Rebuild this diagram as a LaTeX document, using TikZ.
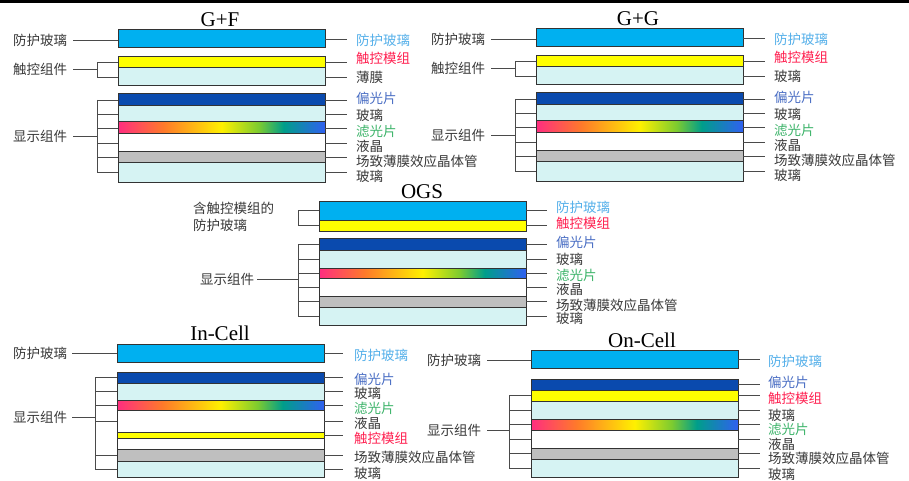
\documentclass[tikz,border=0pt]{standalone}
\usepackage{fontspec}
\setmainfont{Liberation Serif}
\newfontfamily\cjk{Noto Sans CJK SC}
\usetikzlibrary{calc}
\definecolor{pglass}{HTML}{00B0F0}
\definecolor{tyellow}{HTML}{FFFF00}
\definecolor{lglass}{HTML}{D6F3F3}
\definecolor{dblue}{HTML}{0A4AAE}
\definecolor{lgray}{HTML}{BFBFBF}
\definecolor{edge}{HTML}{333333}
\definecolor{conncol}{HTML}{4A4A4A}
\definecolor{txtgray}{HTML}{3A3A3A}
\definecolor{tblue}{HTML}{55B0EA}
\definecolor{tred}{HTML}{FF2050}
\definecolor{tpol}{HTML}{4A6EC4}
\definecolor{tgreen}{HTML}{3DB46A}
\definecolor{spA}{HTML}{FF2D80}
\definecolor{spB}{HTML}{FF7A2A}
\definecolor{spC}{HTML}{FFF000}
\definecolor{spD}{HTML}{7CCB30}
\definecolor{spE}{HTML}{009E8A}
\definecolor{spF}{HTML}{3060F0}
\pgfdeclarehorizontalshading{spectrum}{100bp}{color(0bp)=(spA); color(25bp)=(spA); color(36bp)=(spB); color(50bp)=(spC); color(59bp)=(spD); color(65bp)=(spE); color(75bp)=(spF); color(100bp)=(spF)}
\def\rgap{9pt}
\newcommand\mklay[5]{\node[layer,#5,minimum height=#4pt] (#1) at (#2,#3) {};}
\newcommand\mkrl[6]{\node[rlab,text=#5] (#1) at (#3,#4) {#6};\draw[conn,shorten >=\rgap] (#2.east) -- (#2.east -| #1.west);}
\newcommand\mktick[2]{\draw[conn] (#1.west) -- (#1.west -| #2);}
\newcommand\mkgpanel[3]{%
 \node[ttl] (#1T) at (220,20) {#2};
 \mklay{#1A}{118}{30}{18}{pg}
 \mklay{#1B}{118}{57}{11}{ty}
 \mklay{#1C}{118}{68}{18}{lg}
 \mklay{#1D}{118}{94}{12}{db}
 \mklay{#1E}{118}{106}{16}{lg}
 \mklay{#1F}{118}{122}{12}{sp}
 \mklay{#1G}{118}{134}{18}{wh}
 \mklay{#1H}{118}{152}{11}{gr}
 \mklay{#1I}{118}{163}{19}{lg}
 \coordinate (#1br) at (97,0);
 \node[llab] (#1La) at (13,40) {防护玻璃};
 \draw[conn,shorten <=6pt] (#1La.east) -- (#1La.east -| #1A.west);
 \node[llab] (#1Lb) at (13,69) {触控组件};
 \draw[conn,shorten <=6pt] (#1Lb.east) -- (#1Lb.east -| #1br);
 \draw[conn] (#1B.west -| #1br) -- (#1C.west -| #1br);
 \mktick{#1B}{#1br}\mktick{#1C}{#1br}
 \node[llab] (#1Lc) at (13,136) {显示组件};
 \draw[conn,shorten <=6pt] (#1Lc.east) -- (#1Lc.east -| #1br);
 \draw[conn] (#1D.west -| #1br) -- (#1I.west -| #1br);
 \mktick{#1D}{#1br}\mktick{#1E}{#1br}\mktick{#1F}{#1br}\mktick{#1G}{#1br}\mktick{#1H}{#1br}\mktick{#1I}{#1br}
 \mkrl{#1Ra}{#1A}{356}{40}{tblue}{防护玻璃}
 \mkrl{#1Rb}{#1B}{356}{58}{tred}{触控模组}
 \mkrl{#1Rc}{#1C}{356}{77}{txtgray}{#3}
 \mkrl{#1Rd}{#1D}{356}{98}{tpol}{偏光片}
 \mkrl{#1Re}{#1E}{356}{115}{txtgray}{玻璃}
 \mkrl{#1Rf}{#1F}{356}{131}{tgreen}{滤光片}
 \mkrl{#1Rg}{#1G}{356}{146}{txtgray}{液晶}
 \mkrl{#1Rh}{#1H}{356}{161}{txtgray}{场致薄膜效应晶体管}
 \mkrl{#1Ri}{#1I}{356}{176}{txtgray}{玻璃}
}
\begin{document}
\begin{tikzpicture}[x=1pt,y=-1pt,
 layer/.style={draw=edge,line width=1pt,minimum width=207pt,inner sep=0pt,outer sep=0pt,anchor=north west},
 conn/.style={draw=conncol,line width=0.9pt},
 llab/.style={font=\cjk\fontsize{13.5}{16}\selectfont,text=txtgray,inner sep=0pt,anchor=west},
 rlab/.style={font=\cjk\fontsize{13.5}{16}\selectfont,inner sep=0pt,anchor=west},
 ttl/.style={font=\fontsize{21}{24}\selectfont,inner sep=0pt},
 pg/.style={fill=pglass}, ty/.style={fill=tyellow}, lg/.style={fill=lglass},
 db/.style={fill=dblue}, sp/.style={shade,shading=spectrum}, wh/.style={fill=white},
 gr/.style={fill=lgray}]
\useasboundingbox (0,0) rectangle (909,481);
\fill[white] (0,0) rectangle (909,481);
\fill[black] (0,0) rectangle (909,3);
% G+F
\mkgpanel{gf}{G+F}{薄膜}
% G+G
\begin{scope}[shift={(418,-1)}]
\mkgpanel{gg}{G+G}{玻璃}
\end{scope}
% OGS
\node[ttl] (oT) at (422,192) {OGS};
\mklay{oA}{319}{201}{19}{pg}
\mklay{oB}{319}{220}{11}{ty}
\mklay{oD}{319}{238}{12}{db}
\mklay{oE}{319}{250}{18}{lg}
\mklay{oF}{319}{268}{10}{sp}
\mklay{oG}{319}{278}{18}{wh}
\mklay{oH}{319}{296}{11}{gr}
\mklay{oI}{319}{307}{18}{lg}
\coordinate (obr) at (298,0);
\node[llab] (oLa) at (193,208) {含触控模组的};
\node[llab] (oLa2) at (193,225) {防护玻璃};
\draw[conn] ($(oLa.east)+(0,5)$) -- ($(oLa.east)+(0,5)$ -| obr);
\draw[conn] (oA.west -| obr) -- (oB.west -| obr);
\mktick{oA}{obr}\mktick{oB}{obr}
\node[llab] (oLc) at (200,279) {显示组件};
\draw[conn,shorten <=3pt] (oLc.east) -- (oLc.east -| obr);
\draw[conn] (oD.west -| obr) -- (oI.west -| obr);
\mktick{oD}{obr}\mktick{oE}{obr}\mktick{oF}{obr}\mktick{oG}{obr}\mktick{oH}{obr}\mktick{oI}{obr}
\mkrl{oRa}{oA}{556}{207}{tblue}{防护玻璃}
\mkrl{oRb}{oB}{556}{223}{tred}{触控模组}
\mkrl{oRd}{oD}{556}{242}{tpol}{偏光片}
\mkrl{oRe}{oE}{556}{259}{txtgray}{玻璃}
\mkrl{oRf}{oF}{556}{275}{tgreen}{滤光片}
\mkrl{oRg}{oG}{556}{289}{txtgray}{液晶}
\mkrl{oRh}{oH}{556}{305}{txtgray}{场致薄膜效应晶体管}
\mkrl{oRi}{oI}{556}{318}{txtgray}{玻璃}
% In-Cell
\def\rgap{11pt}
\node[ttl] (iT) at (220,333) {In-Cell};
\mklay{iA}{117}{344}{18}{pg}
\mklay{iD}{117}{372}{11}{db}
\mklay{iE}{117}{383}{17}{lg}
\mklay{iF}{117}{400}{10}{sp}
\mklay{iG}{117}{410}{22}{wh}
\mklay{iY}{117}{432}{6}{ty}
\mklay{iW}{117}{438}{11}{wh}
\mklay{iH}{117}{449}{12}{gr}
\mklay{iI}{117}{461}{16}{lg}
\coordinate (ibr) at (95,0);
\node[llab] (iLa) at (13,353) {防护玻璃};
\draw[conn,shorten <=5pt] (iLa.east) -- (iLa.east -| iA.west);
\node[llab] (iLc) at (13,417) {显示组件};
\draw[conn,shorten <=5pt] (iLc.east) -- (iLc.east -| ibr);
\draw[conn] (iD.west -| ibr) -- (iI.west -| ibr);
\mktick{iD}{ibr}\mktick{iE}{ibr}\mktick{iF}{ibr}\mktick{iG}{ibr}\mktick{iH}{ibr}\mktick{iI}{ibr}
\mkrl{iRa}{iA}{354}{355}{tblue}{防护玻璃}
\mkrl{iRd}{iD}{354}{379}{tpol}{偏光片}
\mkrl{iRe}{iE}{354}{393}{txtgray}{玻璃}
\mkrl{iRf}{iF}{354}{408}{tgreen}{滤光片}
\mkrl{iRg}{iG}{354}{423}{txtgray}{液晶}
\mkrl{iRy}{iY}{354}{438}{tred}{触控模组}
\mkrl{iRh}{iH}{354}{457}{txtgray}{场致薄膜效应晶体管}
\mkrl{iRi}{iI}{354}{473}{txtgray}{玻璃}
% On-Cell
\def\rgap{8pt}
\node[ttl] (nT) at (642,340) {On-Cell};
\mklay{nA}{531}{350}{18}{pg}
\mklay{nD}{531}{379}{11}{db}
\mklay{nY}{531}{390}{11}{ty}
\mklay{nE}{531}{401}{18}{lg}
\mklay{nF}{531}{419}{11}{sp}
\mklay{nG}{531}{430}{18}{wh}
\mklay{nH}{531}{448}{11}{gr}
\mklay{nI}{531}{459}{18}{lg}
\coordinate (nbr) at (509,0);
\node[llab] (nLa) at (427,360) {防护玻璃};
\draw[conn,shorten <=6pt] (nLa.east) -- (nLa.east -| nA.west);
\node[llab] (nLc) at (427,430) {显示组件};
\draw[conn,shorten <=6pt] (nLc.east) -- (nLc.east -| nbr);
\draw[conn] (nY.west -| nbr) -- (nI.west -| nbr);
\mktick{nY}{nbr}\mktick{nE}{nbr}\mktick{nF}{nbr}\mktick{nG}{nbr}\mktick{nH}{nbr}\mktick{nI}{nbr}
\mkrl{nRa}{nA}{768}{361}{tblue}{防护玻璃}
\mkrl{nRd}{nD}{768}{382}{tpol}{偏光片}
\mkrl{nRy}{nY}{768}{398}{tred}{触控模组}
\mkrl{nRe}{nE}{768}{415}{txtgray}{玻璃}
\mkrl{nRf}{nF}{768}{429}{tgreen}{滤光片}
\mkrl{nRg}{nG}{768}{444}{txtgray}{液晶}
\mkrl{nRh}{nH}{768}{458}{txtgray}{场致薄膜效应晶体管}
\mkrl{nRi}{nI}{768}{474}{txtgray}{玻璃}
\end{tikzpicture}
\end{document}
